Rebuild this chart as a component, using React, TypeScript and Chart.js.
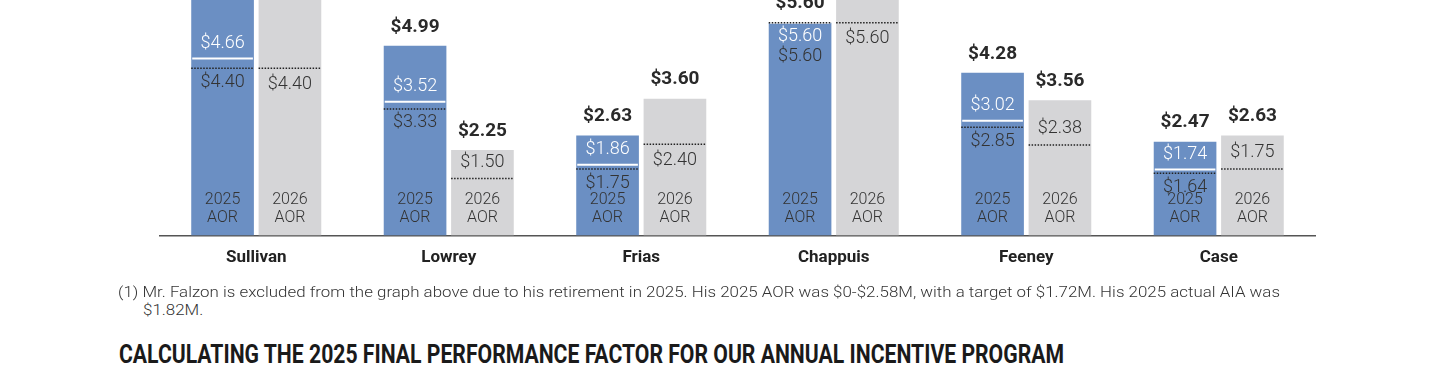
import React, { useEffect, useLayoutEffect, useRef } from 'react';
import { Chart, registerables } from 'chart.js';

Chart.register(...registerables);

// ---------- data ----------
const names = ['Sullivan', 'Lowrey', 'Frias', 'Chappuis', 'Feeney', 'Case'];
const max2025 = [6.6, 4.99, 2.63, 5.6, 4.28, 2.47];
const actual2025 = [4.66, 3.52, 1.86, 5.6, 3.02, 1.74];
const target2025 = [4.4, 3.33, 1.75, 5.6, 2.85, 1.64];
const max2026 = [6.6, 2.25, 3.6, 8.4, 3.56, 2.63];
const target2026 = [4.4, 1.5, 2.4, 5.6, 2.38, 1.75];
const target2026LabelAbove = [false, true, false, false, true, true];
const seriesLabels = [
  ['2025', 'AOR'],
  ['2026', 'AOR'],
];
const footnoteLine1 =
  '(1) Mr. Falzon is excluded from the graph above due to his retirement in 2025. His 2025 AOR was $0-$2.58M, with a target of $1.72M. His 2025 actual AIA was';
const footnoteLine2 = '$1.82M.';
const heading = 'CALCULATING THE 2025 FINAL PERFORMANCE FACTOR FOR OUR ANNUAL INCENTIVE PROGRAM';

const BLUE = '#6b8fc3';
const GRAY = '#d5d5d7';
const DARK = '#2a2a2a';
const fmt = (v: number) => '$' + v.toFixed(2);

const overlayPlugin = {
  id: 'overlay',
  afterDatasetsDraw(chart: any) {
    const ctx: CanvasRenderingContext2D = chart.ctx;
    const y = chart.scales.y;
    const area = chart.chartArea;
    const m0 = chart.getDatasetMeta(0);
    const m1 = chart.getDatasetMeta(1);
    const light = '300 18px Roboto';
    const bold = 'bold 19px Roboto';
    const small = '300 16px Roboto';

    const hline = (x0: number, x1: number, py: number, color: string, w: number, dash: number[]) => {
      ctx.save();
      ctx.beginPath();
      ctx.strokeStyle = color;
      ctx.lineWidth = w;
      ctx.setLineDash(dash);
      ctx.moveTo(x0, py);
      ctx.lineTo(x1, py);
      ctx.stroke();
      ctx.restore();
    };

    ctx.save();
    ctx.textAlign = 'center';
    ctx.textBaseline = 'middle';
    names.forEach((_, i) => {
      const b0: any = m0.data[i];
      const b1: any = m1.data[i];
      // ---- 2025 bar ----
      const l0 = b0.x - b0.width / 2;
      const r0 = b0.x + b0.width / 2;
      const top0 = y.getPixelForValue(max2025[i]);
      const pa = y.getPixelForValue(actual2025[i]);
      const pt = y.getPixelForValue(target2025[i]);
      hline(l0 + 1, r0 - 1, pa, '#ffffff', 2, []);
      hline(l0, r0, pt, '#222', 1.5, [1.5, 1.5]);
      let aY = pa - 15;
      let tY = pt + 14;
      if (aY - 9 < top0) {
        aY = top0 + 14;
        tY = aY + 20;
      }
      ctx.font = light;
      ctx.fillStyle = '#ffffff';
      ctx.fillText(fmt(actual2025[i]), b0.x, aY);
      ctx.fillStyle = '#333';
      ctx.fillText(fmt(target2025[i]), b0.x, tY);
      ctx.font = bold;
      ctx.fillStyle = DARK;
      ctx.fillText(fmt(max2025[i]), b0.x, top0 - 19);

      // ---- 2026 bar ----
      const l1 = b1.x - b1.width / 2;
      const r1 = b1.x + b1.width / 2;
      const top1 = y.getPixelForValue(max2026[i]);
      const pt1 = y.getPixelForValue(target2026[i]);
      hline(l1, r1, pt1, '#222', 1.5, [1.5, 1.5]);
      ctx.font = light;
      ctx.fillStyle = '#333';
      ctx.fillText(fmt(target2026[i]), b1.x, target2026LabelAbove[i] ? pt1 - 16.5 : pt1 + 16);
      ctx.font = bold;
      ctx.fillStyle = DARK;
      ctx.fillText(fmt(max2026[i]), b1.x, top1 - 19);

      // ---- series labels inside bars ----
      ctx.font = small;
      ctx.fillStyle = '#333';
      [b0, b1].forEach((b: any, k: number) => {
        ctx.fillText(seriesLabels[k][0], b.x, area.bottom - 35.5);
        ctx.fillText(seriesLabels[k][1], b.x, area.bottom - 17.5);
      });
    });
    ctx.restore();
  },
};

function ChartBlock() {
  const ref = useRef<HTMLCanvasElement>(null);
  useEffect(() => {
    if (!ref.current) return;
    const chart = new Chart(ref.current, {
      type: 'bar',
      data: {
        labels: names,
        datasets: [
          {
            label: '2025 AOR',
            data: max2025,
            backgroundColor: BLUE,
            borderWidth: 0,
            categoryPercentage: 0.7,
            barPercentage: 0.93,
          },
          {
            label: '2026 AOR',
            data: max2026,
            backgroundColor: GRAY,
            borderWidth: 0,
            categoryPercentage: 0.7,
            barPercentage: 0.93,
          },
        ],
      },
      options: {
        animation: false,
        responsive: false,
        maintainAspectRatio: false,
        devicePixelRatio: 1,
        layout: { padding: { left: 160, right: 125, top: 0, bottom: 9 } },
        plugins: { legend: { display: false }, tooltip: { enabled: false } },
        scales: {
          x: {
            grid: { display: false, drawTicks: false },
            border: { display: true, color: '#555', width: 1.5 },
            ticks: {
              font: { family: 'Roboto', weight: 'bold', size: 17 },
              color: '#222',
              padding: 12,
            },
          },
          y: { display: false, min: 0, max: 6.195 },
        },
      },
      plugins: [overlayPlugin],
    } as any);
    return () => chart.destroy();
  }, []);
  return (
    <canvas
      ref={ref}
      width={1440}
      height={289}
      style={{ position: 'absolute', left: 0, top: 0, width: 1440, height: 289, display: 'block' }}
    />
  );
}

function Footnote() {
  const r1 = useRef<HTMLSpanElement>(null);
  const r2 = useRef<HTMLSpanElement>(null);
  useLayoutEffect(() => {
    const a = r1.current;
    const b = r2.current;
    if (!a || !b) return;
    a.style.transform = 'none';
    const w = a.getBoundingClientRect().width;
    const s = w > 0 ? 1162 / w : 1;
    a.style.transform = `scaleX(${s})`;
    b.style.transform = `scaleX(${s})`;
  }, []);
  const common: React.CSSProperties = {
    position: 'absolute',
    display: 'inline-block',
    whiteSpace: 'nowrap',
    transformOrigin: '0 0',
    fontFamily: 'Roboto',
    fontWeight: 300,
    fontSize: 15,
    lineHeight: '18px',
    color: '#333',
  };
  return (
    <>
      <span ref={r1} style={{ ...common, left: 118, top: 283 }}>
        {footnoteLine1}
      </span>
      <span ref={r2} style={{ ...common, left: 143, top: 301 }}>
        {footnoteLine2}
      </span>
    </>
  );
}

function Heading() {
  const r = useRef<HTMLSpanElement>(null);
  useLayoutEffect(() => {
    const a = r.current;
    if (!a) return;
    a.style.transform = 'none';
    const w = a.getBoundingClientRect().width;
    if (w > 0) a.style.transform = `scaleX(${945 / w})`;
  }, []);
  return (
    <span
      ref={r}
      style={{
        position: 'absolute',
        left: 119,
        top: 340,
        display: 'inline-block',
        whiteSpace: 'nowrap',
        transformOrigin: '0 0',
        fontFamily: 'Roboto',
        fontWeight: 700,
        fontSize: 25,
        lineHeight: '30px',
        color: '#1a1a1a',
      }}
    >
      {heading}
    </span>
  );
}

export default function App() {
  return (
    <div
      style={{
        position: 'absolute',
        left: 0,
        top: 0,
        width: 1440,
        height: 375,
        overflow: 'hidden',
        background: '#ffffff',
      }}
    >
      <ChartBlock />
      <Footnote />
      <Heading />
    </div>
  );
}
